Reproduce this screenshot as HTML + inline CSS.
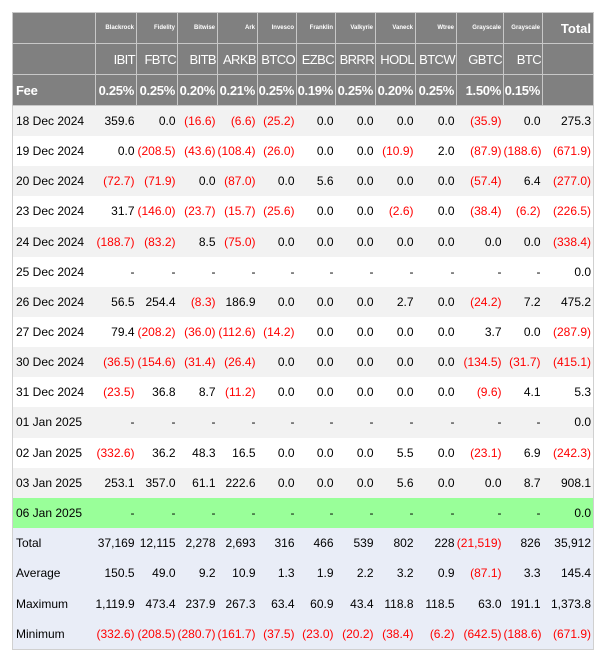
<!DOCTYPE html>
<html><head><meta charset="utf-8"><style>
body{margin:0;background:#fff;font-family:"Liberation Sans",Arial,sans-serif;}
table{position:absolute;left:12px;top:12px;border-collapse:collapse;table-layout:fixed;width:581px;border:1px solid #d0d0d0;}
td{padding:0 2px 0 0;text-align:right;font-size:12px;color:#000;white-space:nowrap;overflow:hidden;}
td:first-child{text-align:left;padding-left:3px;}
tr.h td{background:#808080;color:#fff;border:1px solid #c8c8c8;height:30px;}
tr.h1 td{font-size:6px;font-weight:bold;vertical-align:middle;}
tr.h1 td.t{font-size:13px;}
tr.h2 td{font-size:13px;letter-spacing:-0.6px;padding-right:1px;}
tr.h3 td{font-size:13px;font-weight:bold;letter-spacing:-0.3px;}
tr.d td{height:30.15px;}
tr.g td{background:#f2f2f2;}
tr.w td{background:#fff;}
tr.n td{background:#99ff99;}
tr.s td{background:#e9edf7;height:30.25px;}
.r{color:#f00;}
</style></head><body>
<table>
<colgroup><col style="width:83px"><col style="width:41px"><col style="width:41px"><col style="width:40px"><col style="width:40px"><col style="width:39px"><col style="width:39px"><col style="width:40px"><col style="width:40px"><col style="width:41px"><col style="width:47px"><col style="width:39px"><col style="width:51px"></colgroup>
<tr class="h h1"><td></td><td>Blackrock</td><td>Fidelity</td><td>Bitwise</td><td>Ark</td><td>Invesco</td><td>Franklin</td><td>Valkyrie</td><td>Vaneck</td><td>Wtree</td><td>Grayscale</td><td>Grayscale</td><td class="t">Total</td></tr>
<tr class="h h2"><td></td><td>IBIT</td><td>FBTC</td><td>BITB</td><td>ARKB</td><td>BTCO</td><td>EZBC</td><td>BRRR</td><td>HODL</td><td>BTCW</td><td>GBTC</td><td>BTC</td><td></td></tr>
<tr class="h h3"><td>Fee</td><td>0.25%</td><td>0.25%</td><td>0.20%</td><td>0.21%</td><td>0.25%</td><td>0.19%</td><td>0.25%</td><td>0.20%</td><td>0.25%</td><td>1.50%</td><td>0.15%</td><td></td></tr>
<tr class="d g"><td>18 Dec 2024</td><td>359.6</td><td>0.0</td><td class="r">(16.6)</td><td class="r">(6.6)</td><td class="r">(25.2)</td><td>0.0</td><td>0.0</td><td>0.0</td><td>0.0</td><td class="r">(35.9)</td><td>0.0</td><td>275.3</td></tr>
<tr class="d w"><td>19 Dec 2024</td><td>0.0</td><td class="r">(208.5)</td><td class="r">(43.6)</td><td class="r">(108.4)</td><td class="r">(26.0)</td><td>0.0</td><td>0.0</td><td class="r">(10.9)</td><td>2.0</td><td class="r">(87.9)</td><td class="r">(188.6)</td><td class="r">(671.9)</td></tr>
<tr class="d g"><td>20 Dec 2024</td><td class="r">(72.7)</td><td class="r">(71.9)</td><td>0.0</td><td class="r">(87.0)</td><td>0.0</td><td>5.6</td><td>0.0</td><td>0.0</td><td>0.0</td><td class="r">(57.4)</td><td>6.4</td><td class="r">(277.0)</td></tr>
<tr class="d w"><td>23 Dec 2024</td><td>31.7</td><td class="r">(146.0)</td><td class="r">(23.7)</td><td class="r">(15.7)</td><td class="r">(25.6)</td><td>0.0</td><td>0.0</td><td class="r">(2.6)</td><td>0.0</td><td class="r">(38.4)</td><td class="r">(6.2)</td><td class="r">(226.5)</td></tr>
<tr class="d g"><td>24 Dec 2024</td><td class="r">(188.7)</td><td class="r">(83.2)</td><td>8.5</td><td class="r">(75.0)</td><td>0.0</td><td>0.0</td><td>0.0</td><td>0.0</td><td>0.0</td><td>0.0</td><td>0.0</td><td class="r">(338.4)</td></tr>
<tr class="d w"><td>25 Dec 2024</td><td>-</td><td>-</td><td>-</td><td>-</td><td>-</td><td>-</td><td>-</td><td>-</td><td>-</td><td>-</td><td>-</td><td>0.0</td></tr>
<tr class="d g"><td>26 Dec 2024</td><td>56.5</td><td>254.4</td><td class="r">(8.3)</td><td>186.9</td><td>0.0</td><td>0.0</td><td>0.0</td><td>2.7</td><td>0.0</td><td class="r">(24.2)</td><td>7.2</td><td>475.2</td></tr>
<tr class="d w"><td>27 Dec 2024</td><td>79.4</td><td class="r">(208.2)</td><td class="r">(36.0)</td><td class="r">(112.6)</td><td class="r">(14.2)</td><td>0.0</td><td>0.0</td><td>0.0</td><td>0.0</td><td>3.7</td><td>0.0</td><td class="r">(287.9)</td></tr>
<tr class="d g"><td>30 Dec 2024</td><td class="r">(36.5)</td><td class="r">(154.6)</td><td class="r">(31.4)</td><td class="r">(26.4)</td><td>0.0</td><td>0.0</td><td>0.0</td><td>0.0</td><td>0.0</td><td class="r">(134.5)</td><td class="r">(31.7)</td><td class="r">(415.1)</td></tr>
<tr class="d w"><td>31 Dec 2024</td><td class="r">(23.5)</td><td>36.8</td><td>8.7</td><td class="r">(11.2)</td><td>0.0</td><td>0.0</td><td>0.0</td><td>0.0</td><td>0.0</td><td class="r">(9.6)</td><td>4.1</td><td>5.3</td></tr>
<tr class="d g"><td>01 Jan 2025</td><td>-</td><td>-</td><td>-</td><td>-</td><td>-</td><td>-</td><td>-</td><td>-</td><td>-</td><td>-</td><td>-</td><td>0.0</td></tr>
<tr class="d w"><td>02 Jan 2025</td><td class="r">(332.6)</td><td>36.2</td><td>48.3</td><td>16.5</td><td>0.0</td><td>0.0</td><td>0.0</td><td>5.5</td><td>0.0</td><td class="r">(23.1)</td><td>6.9</td><td class="r">(242.3)</td></tr>
<tr class="d g"><td>03 Jan 2025</td><td>253.1</td><td>357.0</td><td>61.1</td><td>222.6</td><td>0.0</td><td>0.0</td><td>0.0</td><td>5.6</td><td>0.0</td><td>0.0</td><td>8.7</td><td>908.1</td></tr>
<tr class="d n"><td>06 Jan 2025</td><td>-</td><td>-</td><td>-</td><td>-</td><td>-</td><td>-</td><td>-</td><td>-</td><td>-</td><td>-</td><td>-</td><td>0.0</td></tr>
<tr class="s"><td>Total</td><td>37,169</td><td>12,115</td><td>2,278</td><td>2,693</td><td>316</td><td>466</td><td>539</td><td>802</td><td>228</td><td class="r">(21,519)</td><td>826</td><td>35,912</td></tr>
<tr class="s"><td>Average</td><td>150.5</td><td>49.0</td><td>9.2</td><td>10.9</td><td>1.3</td><td>1.9</td><td>2.2</td><td>3.2</td><td>0.9</td><td class="r">(87.1)</td><td>3.3</td><td>145.4</td></tr>
<tr class="s"><td>Maximum</td><td>1,119.9</td><td>473.4</td><td>237.9</td><td>267.3</td><td>63.4</td><td>60.9</td><td>43.4</td><td>118.8</td><td>118.5</td><td>63.0</td><td>191.1</td><td>1,373.8</td></tr>
<tr class="s"><td>Minimum</td><td class="r">(332.6)</td><td class="r">(208.5)</td><td class="r">(280.7)</td><td class="r">(161.7)</td><td class="r">(37.5)</td><td class="r">(23.0)</td><td class="r">(20.2)</td><td class="r">(38.4)</td><td class="r">(6.2)</td><td class="r">(642.5)</td><td class="r">(188.6)</td><td class="r">(671.9)</td></tr>
</table>
</body></html>
